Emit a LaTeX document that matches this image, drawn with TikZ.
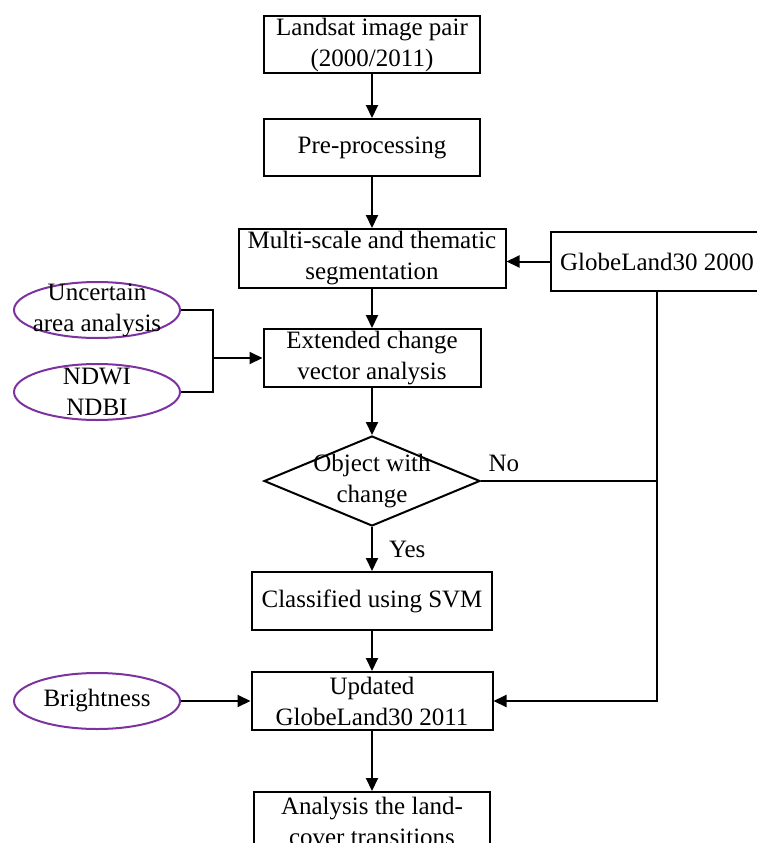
\documentclass[tikz,border=0pt]{standalone}
\usepackage{fontspec}
\setmainfont{Liberation Serif}
\usetikzlibrary{arrows.meta,shapes.geometric}
\definecolor{ovalpurple}{RGB}{125,50,160}
\newcommand{\mkoval}[4]{% #1: name, #2: x, #3: y, #4: text
	\node[oval] (#1) at (#2,#3) {};
	\node[txt] at (#1) {#4};
}

\begin{document}
\begin{tikzpicture}[x=1pt,y=-1pt,
	txt/.style={align=center,inner sep=0pt,font=\fontsize{25}{31}\selectfont},
	box/.style={txt,draw,line width=2pt},
	oval/.style={ellipse,draw=ovalpurple,line width=2pt,minimum width=166pt,minimum height=56pt,inner sep=0pt},
	ln/.style={line width=2pt},
	arr/.style={ln,-{Triangle[length=13pt,width=12pt]}}]
	
	\clip (0,0) rectangle (757,843);
	
	% Main chain of boxes
	\node[box,minimum width=216pt,minimum height=57pt] (landsat) at (372,44.5) {Landsat image pair\\(2000/2011)};
	\node[box,minimum width=216pt,minimum height=57pt] (pre) at (372,147.5) {Pre-processing};
	\node[box,minimum width=267pt,minimum height=59pt] (seg) at (372,258.5) {Multi-scale and thematic\\segmentation};
	\node[box,minimum width=217pt,minimum height=58pt] (ecva) at (372,358) {Extended change\\vector analysis};
	\node[diamond,draw,line width=2pt,minimum width=216pt,minimum height=90pt,inner sep=0pt] (obj) at (372,481) {};
	\node[txt] at (obj) {Object with\\change};
	\node[box,minimum width=240pt,minimum height=58pt] (svm) at (372,601) {Classified using SVM};
	\node[box,minimum width=241pt,minimum height=58pt] (upd) at (372,701) {Updated\\GlobeLand30 2011};
	\node[box,minimum width=236pt,minimum height=58pt] (trans) at (372,821) {Analysis the land-\\cover transitions};
	
	% Reference data
	\node[box,minimum width=212pt,minimum height=59pt] (glc) at (657,261.5) {GlobeLand30 2000};
	
	% Extra inputs
	\mkoval{unc}{97}{310}{Uncertain\\area analysis}
	\mkoval{nd}{97}{392}{NDWI\\NDBI}
	\mkoval{bright}{97}{701}{Brightness}
	\coordinate (join) at (213,358);
	
	% Arrows
	\draw[arr] (landsat) -- (pre);
	\draw[arr] (pre) -- (seg);
	\draw[arr] (glc.west) -- (glc.west -| seg.east);
	\draw[arr] (seg) -- (ecva);
	\draw[ln] (unc.east) -| (join);
	\draw[ln] (nd.east) -| (join);
	\draw[arr] (join) -- (ecva.west);
	\draw[arr] (ecva) -- (obj);
	\draw[arr] (obj) -- node[txt,right,xshift=16pt] {Yes} (svm);
	\draw[ln] (obj.east) -- node[txt,pos=0.13,above=8pt] {No} (obj.east -| glc.south);
	\draw[arr] (glc.south) |- (upd.east);
	\draw[arr] (svm) -- (upd);
	\draw[arr] (bright) -- (upd);
	\draw[arr] (upd) -- (trans);
\end{tikzpicture}
\end{document}
